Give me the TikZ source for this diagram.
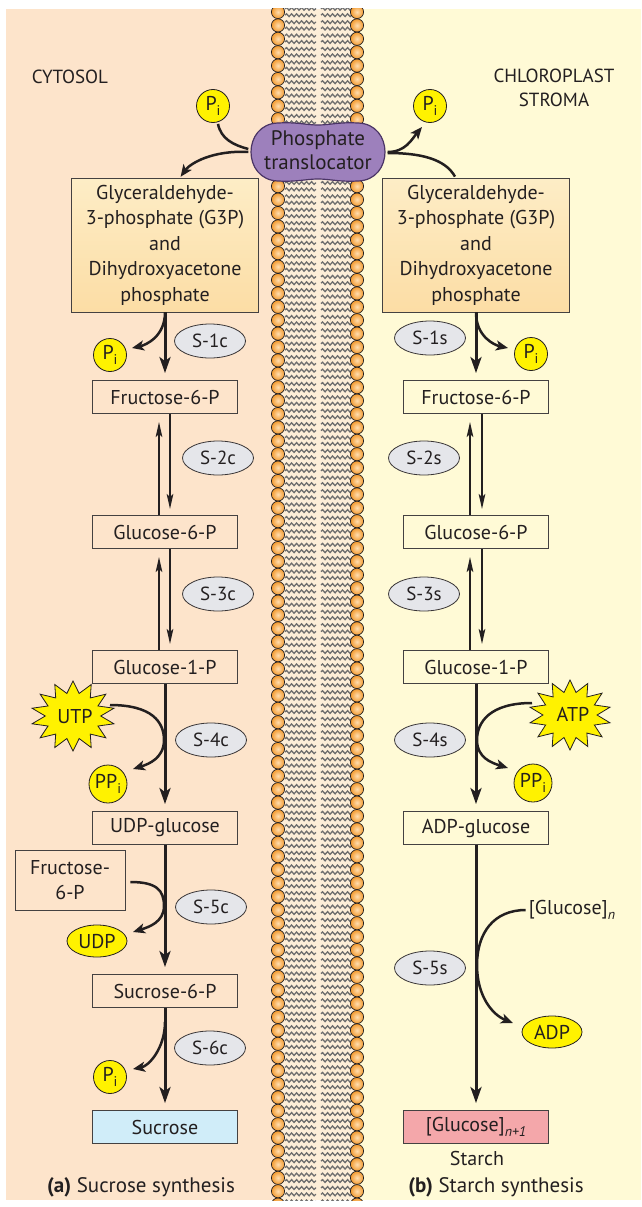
\documentclass[tikz,border=0pt]{standalone}
\usepackage{fontspec}
\setmainfont{PT Sans}
\usetikzlibrary{arrows.meta,decorations.pathmorphing,shapes.geometric,calc}
\definecolor{bgL}{HTML}{FDE4CB}
\definecolor{bgR}{HTML}{FFFAD6}
\definecolor{memb}{HTML}{FDEED8}
\definecolor{headc}{HTML}{F39A2E}
\definecolor{headl}{HTML}{FFDDB0}
\definecolor{tailc}{HTML}{6E6E6E}
\definecolor{ink}{HTML}{231F20}
\definecolor{g3pT}{HTML}{FDEDC6}
\definecolor{g3pB}{HTML}{FCDDA5}
\definecolor{ellc}{HTML}{E5E6EA}
\definecolor{yel}{HTML}{FFF200}
\definecolor{sucr}{HTML}{D0EDF9}
\definecolor{starch}{HTML}{F4A7AA}
\definecolor{purp}{HTML}{9D80BC}
\definecolor{purpd}{HTML}{4B3566}
\newcommand\subi[1]{\raisebox{-0.55ex}{\fontsize{14}{14}\selectfont #1}}
\newcommand\burst[4]{\draw[burststy] plot[samples at={0,...,27}] ({#1+ifthenelse(mod(\x,2)==0,#3,#3*0.66)*cos(\x*360/28+90)},{#2+ifthenelse(mod(\x,2)==0,#4,#4*0.66)*sin(\x*360/28+90)}) -- cycle;}
\begin{document}
\begin{tikzpicture}[x=1pt,y=-1pt,
 every node/.style={text=ink,font=\fontsize{20}{22}\selectfont,inner sep=0pt},
 box/.style={draw=ink!85,line width=0.8pt,minimum width=145pt,minimum height=33pt,inner sep=0pt},
 bigbox/.style={box,minimum width=187pt,minimum height=134pt,top color=g3pT,bottom color=g3pB,align=center,font=\fontsize{20}{25.5}\selectfont},
 enz/.style={ellipse,draw=ink!90,line width=0.8pt,fill=ellc,minimum width=71pt,minimum height=34pt,inner sep=0pt,font=\fontsize{19}{20}\selectfont},
 phos/.style={circle,draw=ink,line width=0.8pt,fill=yel,minimum size=33pt},
 yell/.style={ellipse,draw=ink,line width=0.8pt,fill=yel,minimum width=60pt,minimum height=32pt},
 mainarr/.style={draw=ink,line width=3pt,-{Stealth[length=16pt,width=11pt,inset=4pt]},shorten >=7pt},
 revarr/.style={draw=ink,line width=2.2pt,-{Stealth[length=15pt,width=6.5pt,inset=3pt]}},
 sidearr/.style={draw=ink,line width=2.5pt,-{Stealth[length=12pt,width=10pt,inset=3pt]}},
 burststy/.style={draw=ink,line width=0.8pt,fill=yel},
 tail/.style={draw=tailc,line width=1.3pt,decorate,decoration={snake,amplitude=1.4pt,segment length=5pt}},
]
\useasboundingbox (0,0) rectangle (641,1207);
% backgrounds
\fill[white] (0,0) rectangle (641,1207);
\fill[bgL] (6,9) rectangle (278,1200);
\fill[memb] (278,9) rectangle (357,1200);
\fill[bgR] (357,9) rectangle (641,1200);
% membrane
\begin{scope}
\clip (260,9) rectangle (380,1200);
\foreach \i in {0,...,89} {
  \pgfmathsetmacro\yy{12+\i*13.4}
  \draw[tail] (285,\yy-3.2) -- (316,\yy-3.2);
  \draw[tail] (285,\yy+3.2) -- (316,\yy+3.2);
  \draw[tail] (321,\yy-3.2) -- (352,\yy-3.2);
  \draw[tail] (321,\yy+3.2) -- (352,\yy+3.2);
  \shadedraw[inner color=headl,outer color=headc,draw=ink,line width=0.7pt] (278,\yy) circle (6.6pt);
  \shadedraw[inner color=headl,outer color=headc,draw=ink,line width=0.7pt] (357,\yy) circle (6.6pt);
}
\end{scope}
% translocator
\draw[fill=purp,draw=purpd,line width=1.2pt] (278,123) .. controls (298,122) and (306,125) .. (318,125) .. controls (330,125) and (338,122) .. (358,123) .. controls (394,124) and (394,180) .. (358,181) .. controls (338,182) and (330,179) .. (318,179) .. controls (306,179) and (298,182) .. (278,181) .. controls (242,180) and (242,124) .. (278,123) -- cycle;
\node[align=center,font=\fontsize{21}{24}\selectfont,minimum width=139pt] (tl) at (318,150) {Phosphate\\translocator};
% region labels
\node[font=\fontsize{19}{22}\selectfont] (cyt) at (70,77) {CYTOSOL};
\node[align=center,font=\fontsize{19}{24}\selectfont] (str) at (554,88) {CHLOROPLAST\\STROMA};
% top Pi
\node[phos] (piTL) at (213,106) {P\subi{i}};
\node[phos] (piTR) at (430,106) {P\subi{i}};
% ---------- left column ----------
\node[bigbox] (g3pL) at (165,245) {Glyceraldehyde-\\3-phosphate (G3P)\\and\\Dihydroxyacetone\\phosphate};
\node[box] (f6pL) at (165,397) {Fructose-6-P};
\node[box] (g6pL) at (165,532) {Glucose-6-P};
\node[box] (g1pL) at (165,667) {Glucose-1-P};
\node[box] (udpgL) at (165,828) {UDP-glucose};
\node[box,minimum width=110pt,minimum height=60pt,align=center,font=\fontsize{20}{25}\selectfont] (f6side) at (70,880) {Fructose-\\6-P};
\node[box] (s6pL) at (165,991) {Sucrose-6-P};
\node[box,fill=sucr] (sucL) at (165,1127) {Sucrose};
\node[enz] (e1c) at (210,341) {S-1c};
\node[enz] (e2c) at (218,458) {S-2c};
\node[enz] (e3c) at (218,594) {S-3c};
\node[enz] (e4c) at (211,740) {S-4c};
\node[enz] (e5c) at (211,907) {S-5c};
\node[enz] (e6c) at (210,1048) {S-6c};
\node[phos] (piL1) at (110,355) {P\subi{i}};
\burst{73}{716}{42}{35}
\node (utpL) at (75,717) {UTP};
\node[phos,minimum size=38pt] (ppiL) at (108,784) {PP\subi{i}};
\node[yell] (udpL) at (97,941) {UDP};
\node[phos] (piL2) at (110,1077) {P\subi{i}};
\node[font=\fontsize{21}{24}\selectfont] (labA) at (141,1187) {\textbf{(a)} Sucrose synthesis};
% ---------- right column ----------
\node[bigbox] (g3pR) at (476,245) {Glyceraldehyde-\\3-phosphate (G3P)\\and\\Dihydroxyacetone\\phosphate};
\node[box] (f6pR) at (476,397) {Fructose-6-P};
\node[box] (g6pR) at (476,532) {Glucose-6-P};
\node[box] (g1pR) at (476,667) {Glucose-1-P};
\node[box] (adpgR) at (476,828) {ADP-glucose};
\node[box,fill=starch] (glcR) at (476,1127) {[Glucose]\subi{\itshape n+1}};
\node (starchT) at (477,1158) {Starch};
\node[enz] (e1s) at (430,338) {S-1s};
\node[enz] (e2s) at (424,458) {S-2s};
\node[enz] (e3s) at (424,594) {S-3s};
\node[enz] (e4s) at (430,740) {S-4s};
\node[enz] (e5s) at (430,968) {S-5s};
\node[phos] (piR1) at (531,354) {P\subi{i}};
\burst{570}{715}{41}{35}
\node (atpR) at (573,714) {ATP};
\node[phos,minimum size=38pt] (ppiR) at (533,783) {PP\subi{i}};
\node (glcn) at (572,910) {[Glucose]\subi{\itshape n}};
\node[yell] (adpR) at (552,1032) {ADP};
\node[font=\fontsize{21}{24}\selectfont] (labB) at (496,1187) {\textbf{(b)} Starch synthesis};
% junction coordinates
\coordinate (utpOut) at (110,705);
\coordinate (jL4) at (164,740);
\coordinate (jL5) at (164,906);
\coordinate (atpOut) at (532,703);
\coordinate (jR4) at (477,740);
\coordinate (jR5) at (477,965);
% ---------- top connectors ----------
\draw[line width=2.5pt,draw=ink] ([xshift=5pt,yshift=-1pt]piTL.south) .. controls +(3,15) and +(-15,-4) .. ([yshift=1pt]tl.west);
\draw[sidearr,shorten >=1pt] ([yshift=-2pt]tl.west) .. controls +(-36,-2) and +(10,-14) .. ([xshift=15pt]g3pL.north);
\draw[sidearr] ([yshift=-2pt]tl.east) .. controls +(18,0) and +(-10,12) .. ($(piTR)+(-8,21)$);
\draw[line width=2.5pt,draw=ink] ([xshift=-21pt,yshift=1pt]g3pR.north) .. controls +(-10,-18) and +(32,0) .. ([yshift=-3pt]tl.east);
% ---------- left connectors ----------
\draw[mainarr] (g3pL.south) -- (f6pL.north);
\draw[sidearr] (g3pL.south) .. controls +(0,24) and +(14,-3) .. ($(piL1)+(22,-7)$);
\draw[revarr,shorten >=8pt] ([xshift=-6pt]g6pL.north) -- ([xshift=-6pt]f6pL.south);
\draw[revarr,shorten >=6pt] ([xshift=5pt]f6pL.south) -- ([xshift=5pt]g6pL.north);
\draw[revarr,shorten >=8pt] ([xshift=-6pt]g1pL.north) -- ([xshift=-6pt]g6pL.south);
\draw[revarr,shorten >=6pt] ([xshift=5pt]g6pL.south) -- ([xshift=5pt]g1pL.north);
\draw[mainarr] (g1pL.south) -- (udpgL.north);
\draw[sidearr] (utpOut) .. controls +(42,0) and +(0,-18) .. (jL4) .. controls +(0,18) and +(16,-5) .. ($(ppiL)+(25,-15)$);
\draw[mainarr] (udpgL.south) -- (s6pL.north);
\draw[sidearr] ([xshift=5pt,yshift=-2pt]f6side.east) .. controls +(26,0) and +(0,-16) .. (jL5) .. controls +(0,16) and +(16,-5) .. ($(udpL)+(36,-9)$);
\draw[mainarr] (s6pL.south) -- (sucL.north);
\draw[sidearr] ($(s6pL.south)+(0,14)$) .. controls +(0,26) and +(16,-3) .. ($(piL2)+(23,-8)$);
% ---------- right connectors ----------
\draw[mainarr] (g3pR.south) -- (f6pR.north);
\draw[sidearr] (g3pR.south) .. controls +(0,24) and +(-14,-3) .. ($(piR1)+(-23,-6)$);
\draw[revarr,shorten >=8pt] ([xshift=-6pt]g6pR.north) -- ([xshift=-6pt]f6pR.south);
\draw[revarr,shorten >=6pt] ([xshift=6pt]f6pR.south) -- ([xshift=6pt]g6pR.north);
\draw[revarr,shorten >=8pt] ([xshift=-6pt]g1pR.north) -- ([xshift=-6pt]g6pR.south);
\draw[revarr,shorten >=6pt] ([xshift=6pt]g6pR.south) -- ([xshift=6pt]g1pR.north);
\draw[mainarr] (g1pR.south) -- (adpgR.north);
\draw[sidearr] (atpOut) .. controls +(-42,0) and +(0,-18) .. (jR4) .. controls +(0,18) and +(-16,-5) .. ($(ppiR)+(-25,-15)$);
\draw[mainarr] (adpgR.south) -- (glcR.north);
\draw[sidearr] ([xshift=-3pt]glcn.west) .. controls +(-32,0) and +(0,-32) .. (jR5) .. controls +(0,32) and +(-20,-8) .. ($(adpR)+(-39,-9)$);
\end{tikzpicture}
\end{document}
